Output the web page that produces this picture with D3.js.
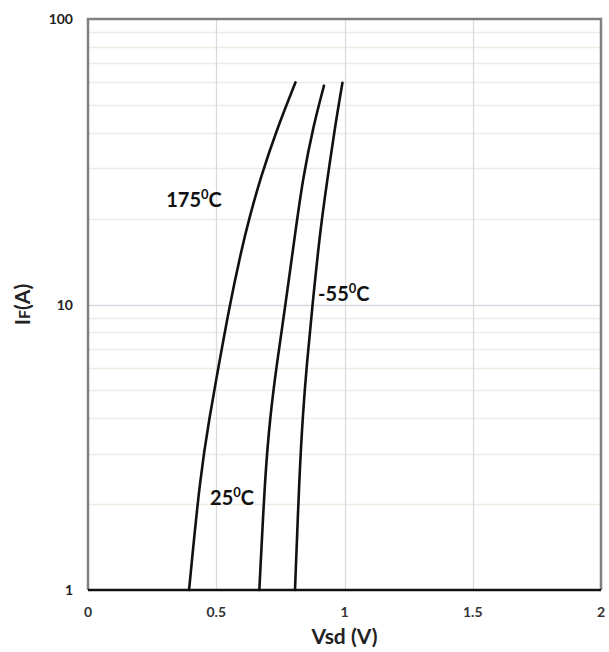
<!DOCTYPE html>
<html>
<head>
<meta charset="utf-8">
<script src="https://cdn.jsdelivr.net/npm/d3@7"></script>
<style>
  html, body { margin: 0; padding: 0; background: #fff; }
  svg { display: block; }
  text { font-family: Lato, "Open Sans", sans-serif; }
</style>
</head>
<body>
<svg id="chart" width="609" height="652"></svg>
<script>
// Forward current vs. source-drain voltage at three junction temperatures
const currents = [1, 2.5, 4.05, 6.2, 9.7, 15.1, 20.3, 28, 40.8, 60];
const vsd175 = [0.394, 0.437, 0.474, 0.511, 0.550, 0.595, 0.630, 0.674, 0.735, 0.809];
const currents25 = [1, 2.5, 4.05, 6.2, 9.7, 18.7, 28, 42, 58.4];
const vsd25 = [0.668, 0.690, 0.710, 0.736, 0.768, 0.811, 0.839, 0.878, 0.920];
const currentsM55 = [1, 2.5, 4.05, 6.2, 9.7, 17.8, 26.6, 42, 59.8];
const vsdM55 = [0.807, 0.824, 0.837, 0.853, 0.874, 0.904, 0.931, 0.963, 0.992];

const xTicks = [0, 0.5, 1, 1.5, 2];
const xTickLabels = ["0", "0.5", "1", "1.5", "2"];
const yTicks = [1, 10, 100];
const yTickLabels = ["1", "10", "100"];

const curveLabels = [
  { text: "175", v: 0.305, i: 21.9 },
  { text: "-55", v: 0.897, i: 10.3 },
  { text: "25", v: 0.476, i: 1.98 }
];

const series = [
  { v: vsd175, i: currents },
  { v: vsd25, i: currents25 },
  { v: vsdM55, i: currentsM55 }
];

const margin = { left: 88, top: 19, right: 8, bottom: 62 };
const W = 609, H = 652;
const svg = d3.select("#chart");

const x = d3.scaleLinear().domain([0, 2]).range([margin.left, W - margin.right]);
const y = d3.scaleLog().domain([1, 100]).range([H - margin.bottom, margin.top]);

// minor horizontal grid (log decades)
const minor = [];
[1, 10].forEach(d => { for (let k = 2; k <= 9; k++) minor.push(d * k); });
svg.append("g").selectAll("line").data(minor).join("line")
  .attr("x1", x(0)).attr("x2", x(2))
  .attr("y1", d => Math.round(y(d)) + 0.5).attr("y2", d => Math.round(y(d)) + 0.5)
  .attr("stroke", (d, idx) => idx % 2 ? "#ebebeb" : "#eeece2")
  .attr("stroke-width", 1.5);

// major horizontal grid line at 10
svg.append("line")
  .attr("x1", x(0)).attr("x2", x(2))
  .attr("y1", Math.round(y(10)) + 0.5).attr("y2", Math.round(y(10)) + 0.5)
  .attr("stroke", "#d5dbe2").attr("stroke-width", 1.5);

// vertical grid
svg.append("g").selectAll("line").data([0.5, 1, 1.5]).join("line")
  .attr("x1", d => Math.round(x(d)) + 0.5).attr("x2", d => Math.round(x(d)) + 0.5)
  .attr("y1", y(100)).attr("y2", y(1))
  .attr("stroke", "#d9d9d9").attr("stroke-width", 1.2);

// frame: top, left, right in gray
svg.append("path")
  .attr("d", `M${x(0)},${y(1)}V${y(100)}H${x(2)}V${y(1)}`)
  .attr("fill", "none").attr("stroke", "#808080").attr("stroke-width", 2.5);

// curves
const line = d3.line()
  .x(d => x(d[0])).y(d => y(d[1]))
  .curve(d3.curveBasis);
svg.append("g").selectAll("path").data(series).join("path")
  .attr("d", s => line(s.v.map((v, k) => [v, s.i[k]])))
  .attr("fill", "none").attr("stroke", "#111").attr("stroke-width", 2.6)
  .attr("stroke-linecap", "round");

// x axis baseline
svg.append("line")
  .attr("x1", x(0)).attr("x2", x(2))
  .attr("y1", y(1)).attr("y2", y(1))
  .attr("stroke", "#111").attr("stroke-width", 2.5);

// x tick labels
svg.append("g").selectAll("text").data(xTicks).join("text")
  .attr("x", d => x(d)).attr("y", y(1) + 27)
  .attr("text-anchor", "middle")
  .attr("font-size", 14).attr("font-weight", 700).attr("fill", "#333")
  .text((d, k) => xTickLabels[k]);

// y tick labels
svg.append("g").selectAll("text").data(yTicks).join("text")
  .attr("x", x(0) - 15).attr("y", d => y(d) + 5)
  .attr("text-anchor", "end")
  .attr("font-size", 14).attr("font-weight", 700).attr("fill", "#222")
  .text((d, k) => yTickLabels[k]);

// axis titles
svg.append("text")
  .attr("x", x(1)).attr("y", 644)
  .attr("text-anchor", "middle")
  .attr("font-size", 21).attr("font-weight", 700).attr("fill", "#222")
  .text("Vsd (V)");

const yt = svg.append("text")
  .attr("transform", `translate(30,${y(10)}) rotate(-90)`)
  .attr("text-anchor", "middle")
  .attr("font-size", 21).attr("font-weight", 700).attr("fill", "#222");
yt.append("tspan").text("I");
yt.append("tspan").attr("font-size", 16).text("F");
yt.append("tspan").text("(A)");

// temperature labels
const lg = svg.append("g").selectAll("text").data(curveLabels).join("text")
  .attr("x", d => x(d.v)).attr("y", d => y(d.i))
  .attr("font-size", 20).attr("font-weight", 700).attr("fill", "#111");
lg.append("tspan").text(d => d.text);
lg.append("tspan").attr("font-size", 13).attr("dy", -8).text("0");
lg.append("tspan").attr("dy", 8).text("C");
</script>
</body>
</html>
